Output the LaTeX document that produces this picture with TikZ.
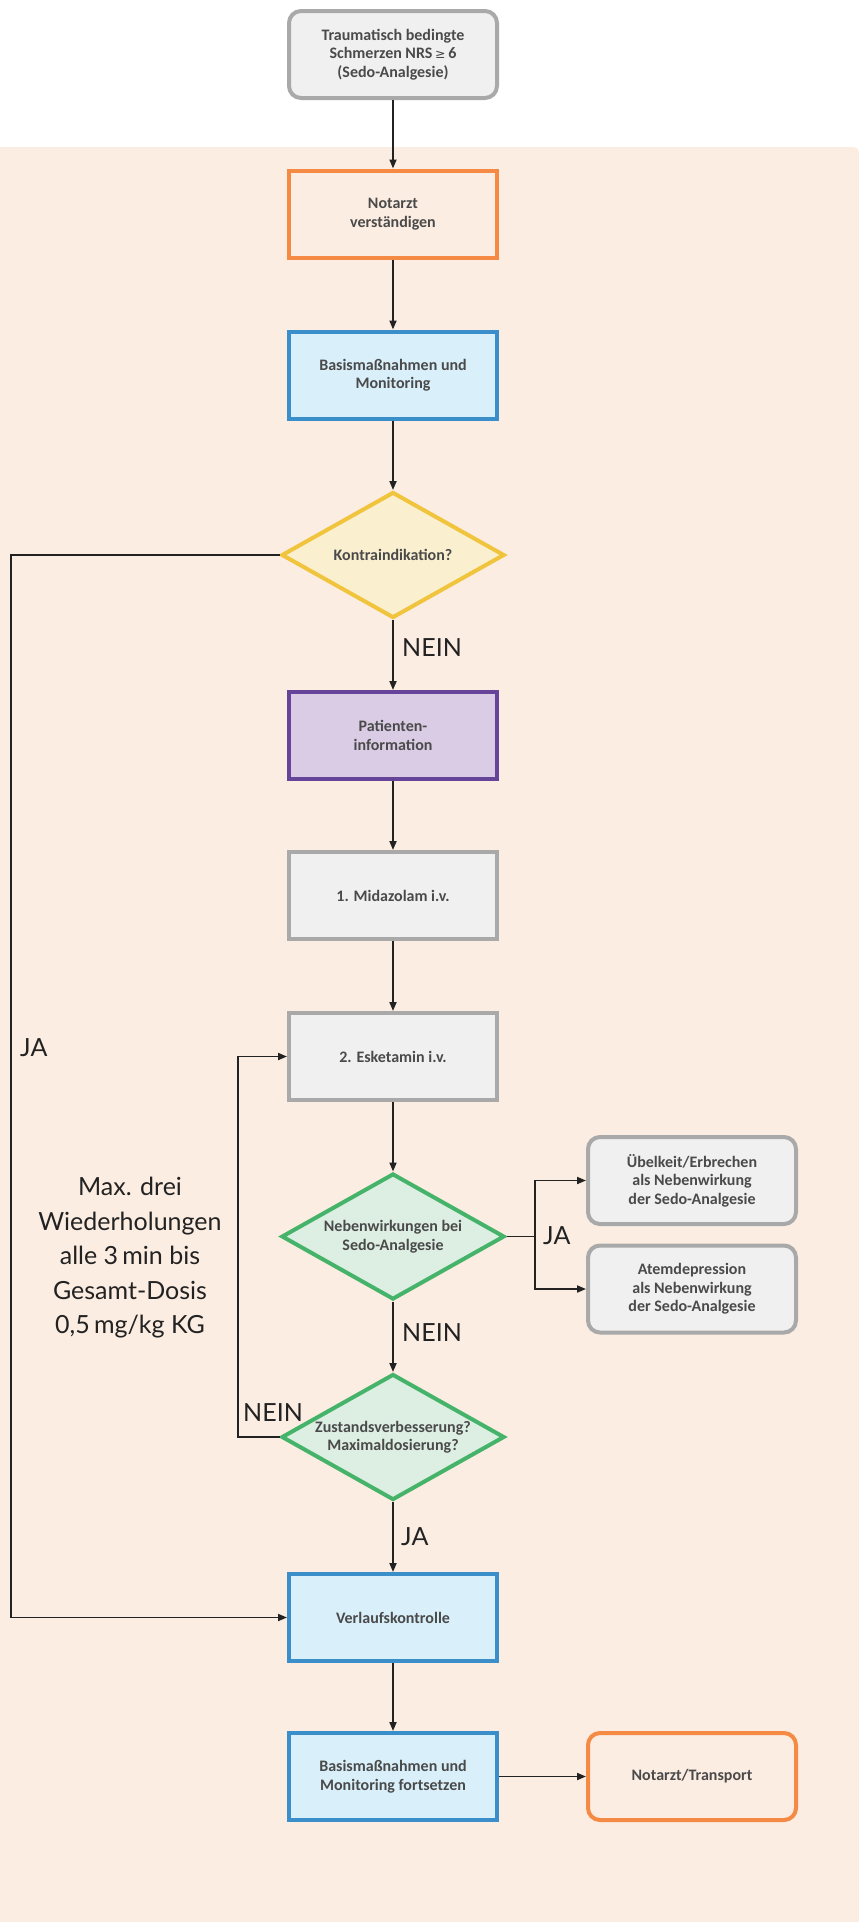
\documentclass[tikz,border=0pt]{standalone}
\usepackage{fontspec}
\setmainfont{Liberation Sans}
\newfontfamily\boxfont[UprightFont=*-Bold]{Carlito}
\newfontfamily\lblfont{Lato}
\usetikzlibrary{shapes.geometric,arrows.meta}
\definecolor{bgc}{HTML}{FCEDE2}
\definecolor{txt}{HTML}{4A4A4A}
\definecolor{lbl}{HTML}{222222}
\definecolor{grayb}{HTML}{A9A9A9}
\definecolor{grayf}{HTML}{F0F0F0}
\definecolor{orab}{HTML}{F58A45}
\definecolor{blueb}{HTML}{3A8FCB}
\definecolor{bluef}{HTML}{D9EFFA}
\definecolor{yelb}{HTML}{F0C43C}
\definecolor{yelf}{HTML}{FAF0D0}
\definecolor{purb}{HTML}{65449A}
\definecolor{purf}{HTML}{D9CCE4}
\definecolor{grnb}{HTML}{46B36A}
\definecolor{grnf}{HTML}{DDEEE3}
\definecolor{linec}{HTML}{222222}
\tikzset{
  x=1pt, y=-1pt,
  boxtext/.style={text=txt, align=center, font=\boxfont\fontsize{16}{18.5}\selectfont},
  base/.style={boxtext, line width=4pt, minimum width=208pt, minimum height=87pt, inner sep=0pt},
  graybox/.style={base, draw=grayb, fill=grayf, rounded corners=12pt},
  orabox/.style={base, draw=orab, fill=bgc},
  orarbox/.style={base, draw=orab, fill=bgc, rounded corners=12pt},
  bluebox/.style={base, draw=blueb, fill=bluef},
  purbox/.style={base, draw=purb, fill=purf},
  grayrect/.style={base, draw=grayb, fill=grayf},
  dia/.style={diamond, line width=4pt, minimum width=223pt, minimum height=126pt, inner sep=0pt},
  yeldia/.style={dia, draw=yelb, fill=yelf},
  grndia/.style={dia, draw=grnb, fill=grnf},
  diatext/.style={boxtext, inner sep=0pt},
  conn/.style={draw=linec, line width=1.8pt},
  arr/.style={conn, -{Triangle[length=9pt,width=7pt]}},
  lab/.style={text=lbl, font=\lblfont\fontsize{25}{34.5}\selectfont, inner sep=0pt, align=center},
}
\begin{document}
\begin{tikzpicture}
\useasboundingbox (0,0) rectangle (859,1922);
\fill[bgc] (0,147) -- (853,147) arc[start angle=90, end angle=0, radius=6pt] -- (859,1922) -- (0,1922) -- cycle;

\node[graybox] (top) at (393,54.5) {Traumatisch bedingte\\Schmerzen NRS\,{\fontspec{DejaVu Sans}\fontsize{12.5}{18}\selectfont ≥}\,6\\(Sedo-Analgesie)};
\node[orabox] (notarzt) at (393,214) {Notarzt\\verständigen};
\node[bluebox] (basis) at (393,375) {Basismaßnahmen und\\Monitoring};
\node[yeldia] (kontra) at (393,555) {};
\node[diatext] (kontraT) at (kontra.center) {Kontraindikation?};
\node[purbox] (patinfo) at (393,735.5) {Patienten-\\information};
\node[grayrect] (mida) at (393,895.5) {1. Midazolam i.v.};
\node[grayrect] (esket) at (393,1056.5) {2. Esketamin i.v.};
\node[grndia] (neben) at (393,1236.5) {};
\node[diatext] (nebenT) at (neben.center) {Nebenwirkungen bei\\Sedo-Analgesie};
\node[grndia] (zustand) at (393,1437) {};
\node[diatext] (zustandT) at (zustand.center) {Zustandsverbesserung?\\Maximaldosierung?};
\node[bluebox] (verlauf) at (393,1617.5) {Verlaufskontrolle};
\node[bluebox] (basis2) at (393,1776.5) {Basismaßnahmen und\\Monitoring fortsetzen};
\node[orarbox] (transport) at (692,1776.5) {Notarzt/Transport};
\node[graybox] (uebel) at (692,1180.5) {Übelkeit/Erbrechen\\als Nebenwirkung\\der Sedo-Analgesie};
\node[graybox] (atem) at (692,1289) {Atemdepression\\als Nebenwirkung\\der Sedo-Analgesie};

\draw[arr] (top) -- (notarzt);
\draw[arr] (notarzt) -- (basis);
\draw[arr] (basis) -- (kontra.north);
\draw[arr] (kontra.south) -- (patinfo);
\draw[arr] (patinfo) -- (mida);
\draw[arr] (mida) -- (esket);
\draw[arr] (esket) -- (neben.north);
\draw[arr] (neben.south) -- (zustand.north);
\draw[arr] (zustand.south) -- (verlauf);
\draw[arr] (verlauf) -- (basis2);
\draw[arr] (basis2) -- (transport);

\coordinate (jaL) at (11,555);
\draw[arr] (kontra.west) -- (jaL) |- (verlauf.west);
\coordinate (neinL) at (238,1437);
\draw[arr] (zustand.west) -- (neinL) |- (esket.west);
\coordinate (br) at (535,1236.5);
\draw[conn] (neben.east) -- (br);
\draw[arr] (br) |- (uebel.west);
\draw[arr] (br) |- (atem.west);

\node[lab, anchor=west] (l1) at (402,648) {NEIN};
\node[lab, anchor=west] (l2) at (402,1333) {NEIN};
\node[lab, anchor=west] (l3) at (401,1537) {JA};
\node[lab, anchor=west] (l4) at (243,1413) {NEIN};
\node[lab, anchor=west] (l5) at (543,1236) {JA};
\node[lab, anchor=west] (l6) at (20,1048) {JA};
\node[lab] (l7) at (130,1258) {Max. drei\\Wiederholungen\\alle 3\,min bis\\Gesamt-Dosis\\0,5\,mg/kg KG};
\end{tikzpicture}
\end{document}
